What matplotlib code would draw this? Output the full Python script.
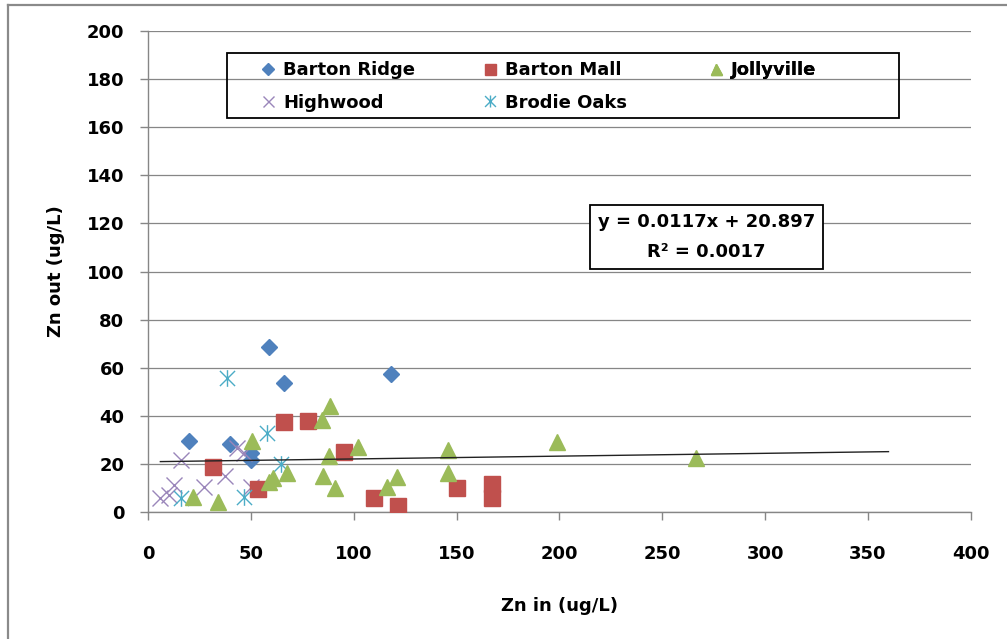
import numpy as np
import matplotlib.pyplot as plt
from matplotlib.path import Path
from matplotlib.patches import Rectangle
from matplotlib.lines import Line2D

plt.rcParams['font.family'] = ['DejaVu Sans']
plt.rcParams['font.weight'] = 'bold'

# 各站点进出水锌浓度 (ug/L)
barton_ridge_in = [59, 66, 20, 40, 50, 50, 118]
barton_ridge_out = [68.5, 53.5, 29.6, 28.1, 24.7, 21.6, 57.3]

barton_mall_in = [31.5, 66, 78, 95.5, 53.5, 110, 121.5, 150, 167, 167]
barton_mall_out = [18.6, 37.3, 37.7, 24.8, 9.4, 6.0, 2.5, 9.8, 11.6, 5.8]

jollyville_in = [88.5, 84.5, 50.5, 88, 102, 85, 91, 61, 59, 67.5, 22, 34,
                 146, 146, 121, 116, 199, 266.5]
jollyville_out = [44.2, 38.3, 29.6, 23.3, 26.9, 14.8, 10.1, 14.0, 12.6, 16.2, 6.1, 4.0,
                  25.9, 16.4, 14.5, 10.5, 29.3, 22.4]

highwood_in = [16, 6, 10, 12.5, 27, 37.5, 43.5, 46.5, 50]
highwood_out = [21.6, 5.8, 7.1, 11.2, 10.5, 15.0, 26.5, 24.4, 10.5]

brodie_oaks_in = [38.5, 58, 64.5, 46.5, 16]
brodie_oaks_out = [55.6, 32.7, 20.0, 6.4, 5.7]

# 线性趋势线 (Excel 拟合结果)
slope = 0.0117
intercept = 20.897
forecast_forward = 93.5

x_ticks = np.arange(0, 401, 50)
y_ticks = np.arange(0, 201, 20)

grid_gray = '#868686'
fs = 13

# 星号标记: X 加一条竖线
star_marker = Path([(-1, -1), (1, 1), (-1, 1), (1, -1), (0, -1.1), (0, 1.1)],
                   [Path.MOVETO, Path.LINETO, Path.MOVETO, Path.LINETO, Path.MOVETO, Path.LINETO])

fig = plt.figure(figsize=(10.07, 6.39), dpi=100)
ax = fig.add_axes([0.147, 0.1987, 0.817, 0.7528])

h_br, = ax.plot(barton_ridge_in, barton_ridge_out, ls='none', marker='D', ms=8,
                color='#4F81BD', mec='#4F81BD', label='Barton Ridge', zorder=3)
h_hw, = ax.plot(highwood_in, highwood_out, ls='none', marker='x', ms=11, mew=1.0,
                color='#9A86BA', label='Highwood', zorder=3)
h_bm, = ax.plot(barton_mall_in, barton_mall_out, ls='none', marker='s', ms=11,
                color='#C0504D', mec='#C0504D', label='Barton Mall', zorder=3)
h_bo, = ax.plot(brodie_oaks_in, brodie_oaks_out, ls='none', marker=star_marker, ms=12, mew=1.0,
                color='#4BACC6', label='Brodie Oaks', zorder=3)
h_jv, = ax.plot(jollyville_in, jollyville_out, ls='none', marker='^', ms=11,
                color='#9BBB59', mec='#9BBB59', label='Jollyville', zorder=3)

all_x = np.concatenate([barton_ridge_in, barton_mall_in, jollyville_in, highwood_in, brodie_oaks_in])
trend_x = np.array([all_x.min(), all_x.max() + forecast_forward])
ax.plot(trend_x, slope * trend_x + intercept, color='#222222', lw=1.0, zorder=4)

ax.set_xlim(0, 400)
ax.set_ylim(0, 200)
ax.set_xticks(x_ticks)
ax.set_yticks(y_ticks)
ax.yaxis.grid(True, color=grid_gray, lw=0.9)
ax.set_axisbelow(True)
for side in ['top', 'right']:
    ax.spines[side].set_visible(False)
for side in ['left', 'bottom']:
    ax.spines[side].set_color(grid_gray)
    ax.spines[side].set_linewidth(1.0)
ax.tick_params(axis='both', colors=grid_gray, labelcolor='black', labelsize=fs,
               length=6, width=1.0, direction='out')
ax.tick_params(axis='x', pad=18)
ax.tick_params(axis='y', pad=11)

ax.set_xlabel('Zn in (ug/L)', fontsize=fs, fontweight='bold', labelpad=24)
ax.set_ylabel('Zn out (ug/L)', fontsize=fs, fontweight='bold', labelpad=16)

# 图例: 三列, 外框单独画
legend_cols = [([h_br, h_hw], 0.135), ([h_bm, h_bo], 0.405), ([h_jv], 0.679)]
for handles, x0 in legend_cols:
    lg = ax.legend(handles=handles, loc='upper left', bbox_to_anchor=(x0, 0.937),
                   fontsize=fs, frameon=False, borderpad=0, borderaxespad=0,
                   handlelength=1.0, handletextpad=0.33, labelspacing=0.8,
                   markerscale=0.72)
    ax.add_artist(lg)
ax.add_patch(Rectangle((0.0961, 0.819), 0.8163, 0.1351, transform=ax.transAxes,
                       fill=False, ec='black', lw=1.3, zorder=5))

ax.text(0.679, 0.572, 'y = 0.0117x + 20.897\nR\u00b2 = 0.0017', transform=ax.transAxes,
        ha='center', va='center', fontsize=fs, fontweight='bold', linespacing=1.9,
        bbox=dict(boxstyle='square,pad=0.42', fc='white', ec='black', lw=1.3))

# 图表外框
fig.add_artist(Line2D([0.008, 1.0], [0.9922, 0.9922], transform=fig.transFigure,
                      color='#8A8A8A', lw=1.6))
fig.add_artist(Line2D([0.008, 0.008], [0.0, 0.9922], transform=fig.transFigure,
                      color='#8A8A8A', lw=1.6))

fig.savefig('out.png', dpi=100)
